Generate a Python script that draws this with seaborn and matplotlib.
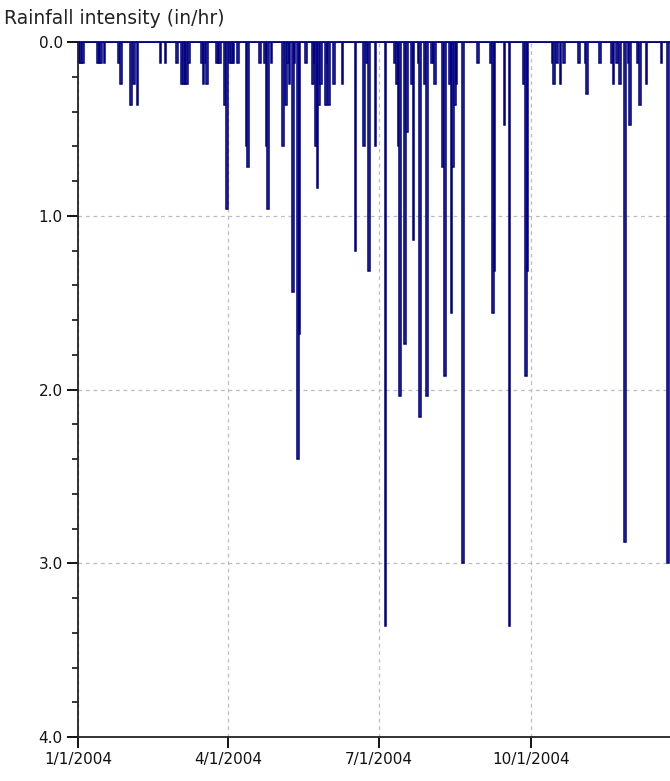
import pandas as pd
import matplotlib
matplotlib.use("Agg")
import matplotlib.pyplot as plt
from matplotlib.ticker import MultipleLocator
import seaborn as sns

# Daily rainfall intensity, 2004 (in/hr)
dates = [
    "2004-01-02", "2004-01-03", "2004-01-04", "2004-01-13", "2004-01-14", "2004-01-15",
    "2004-01-17", "2004-01-26", "2004-01-27", "2004-02-02", "2004-02-04", "2004-02-06",
    "2004-02-20", "2004-02-23", "2004-03-01", "2004-03-04", "2004-03-05", "2004-03-06",
    "2004-03-07", "2004-03-08", "2004-03-16", "2004-03-17", "2004-03-18", "2004-03-19",
    "2004-03-25", "2004-03-26", "2004-03-27", "2004-03-30", "2004-03-31", "2004-04-02",
    "2004-04-03", "2004-04-04", "2004-04-07", "2004-04-12", "2004-04-13", "2004-04-20",
    "2004-04-23", "2004-04-24", "2004-04-25", "2004-04-27", "2004-05-04", "2004-05-06",
    "2004-05-07", "2004-05-08", "2004-05-10", "2004-05-11", "2004-05-13", "2004-05-14",
    "2004-05-18", "2004-05-22", "2004-05-23", "2004-05-24", "2004-05-25", "2004-05-26",
    "2004-05-27", "2004-05-30", "2004-05-31", "2004-06-01", "2004-06-04", "2004-06-09",
    "2004-06-17", "2004-06-22", "2004-06-24", "2004-06-25", "2004-06-29", "2004-07-05",
    "2004-07-11", "2004-07-12", "2004-07-13", "2004-07-14", "2004-07-17", "2004-07-18",
    "2004-07-21", "2004-07-22", "2004-07-25", "2004-07-26", "2004-07-29", "2004-07-30",
    "2004-08-02", "2004-08-03", "2004-08-04", "2004-08-09", "2004-08-10", "2004-08-13",
    "2004-08-14", "2004-08-15", "2004-08-16", "2004-08-17", "2004-08-21", "2004-08-30",
    "2004-09-07", "2004-09-08", "2004-09-09", "2004-09-15", "2004-09-18", "2004-09-27",
    "2004-09-28", "2004-09-29", "2004-10-14", "2004-10-15", "2004-10-17", "2004-10-19",
    "2004-10-21", "2004-10-30", "2004-11-03", "2004-11-04", "2004-11-12", "2004-11-19",
    "2004-11-20", "2004-11-22", "2004-11-24", "2004-11-27", "2004-11-29", "2004-11-30",
    "2004-12-05", "2004-12-06", "2004-12-10", "2004-12-19", "2004-12-23",
]
intensity = [
    0.12, 0.12, 0.12, 0.12, 0.12, 0.12,
    0.12, 0.12, 0.24, 0.36, 0.24, 0.36,
    0.12, 0.12, 0.12, 0.24, 0.24, 0.24,
    0.24, 0.12, 0.12, 0.24, 0.12, 0.24,
    0.12, 0.12, 0.12, 0.36, 0.96, 0.12,
    0.12, 0.12, 0.12, 0.60, 0.72, 0.12,
    0.12, 0.60, 0.96, 0.12, 0.60, 0.36,
    0.12, 0.24, 1.44, 0.12, 2.40, 1.68,
    0.12, 0.24, 0.12, 0.60, 0.84, 0.36,
    0.24, 0.36, 0.12, 0.36, 0.24, 0.24,
    1.20, 0.60, 0.12, 1.32, 0.60, 3.36,
    0.12, 0.24, 0.60, 2.04, 1.74, 0.52,
    0.24, 1.14, 0.12, 2.16, 0.24, 2.04,
    0.12, 0.12, 0.24, 0.72, 1.92, 0.24,
    1.56, 0.72, 0.36, 0.24, 3.00, 0.12,
    0.12, 1.56, 1.32, 0.48, 3.36, 0.24,
    1.92, 1.32, 0.12, 0.24, 0.12, 0.24,
    0.12, 0.12, 0.12, 0.30, 0.12, 0.12,
    0.24, 0.12, 0.24, 2.88, 0.12, 0.48,
    0.12, 0.36, 0.24, 0.12, 3.00,
]

tick_dates = ["2004-01-01", "2004-04-01", "2004-07-01", "2004-10-01"]
tick_labels = ["1/1/2004", "4/1/2004", "7/1/2004", "10/1/2004"]

start = pd.Timestamp("2004-01-01")
df = pd.DataFrame({"date": pd.to_datetime(dates), "intensity": intensity})
df["day"] = (df["date"] - start).dt.days
tick_pos = [(pd.Timestamp(d) - start).days for d in tick_dates]

sns.set_style("white")
plt.rcParams["font.family"] = ["DejaVu Sans"]

fig = plt.figure(figsize=(6.7, 7.81), dpi=100)
ax = fig.add_axes([78 / 670, 1 - 737 / 781, 1 - 78 / 670, (737 - 42) / 781])

# bars hang down from zero because the y axis is inverted
sns.histplot(data=df, x="day", weights="intensity", discrete=True, ax=ax,
             color="#6a6ab8", edgecolor="#000080", linewidth=1.1, alpha=1.0)

ax.set_xlim(0, 358.2)
ax.set_ylim(4.0, 0.0)

ax.set_xticks(tick_pos)
ax.set_xticklabels(tick_labels)
ax.set_yticks([0, 1, 2, 3, 4])
ax.set_yticklabels(["0.0", "1.0", "2.0", "3.0", "4.0"])
ax.yaxis.set_minor_locator(MultipleLocator(0.2))

ax.tick_params(axis="both", which="major", direction="out", length=8, width=1.3,
               color="black", labelsize=11, labelcolor="#111111", pad=3)
ax.tick_params(axis="y", which="minor", direction="out", length=4, width=1.1,
               color="black", left=True)
ax.tick_params(axis="x", which="major", bottom=True)
ax.tick_params(axis="y", which="major", left=True)

ax.grid(True, which="major", axis="both", color="#bdbdbd", linestyle=(0, (3, 3)),
        linewidth=0.9)
ax.set_axisbelow(True)

ax.set_xlabel("")
ax.set_ylabel("")

for side in ["left", "bottom"]:
    ax.spines[side].set_color("#222222")
    ax.spines[side].set_linewidth(1.3)
ax.spines["top"].set_color("#000080")
ax.spines["top"].set_linewidth(1.3)
ax.spines["right"].set_visible(False)

fig.text(4 / 670, 1 - 18 / 781, "Rainfall intensity (in/hr)", fontsize=13.5,
         color="#222222", ha="left", va="center")

fig.savefig("out.png", dpi=100, facecolor="white")
